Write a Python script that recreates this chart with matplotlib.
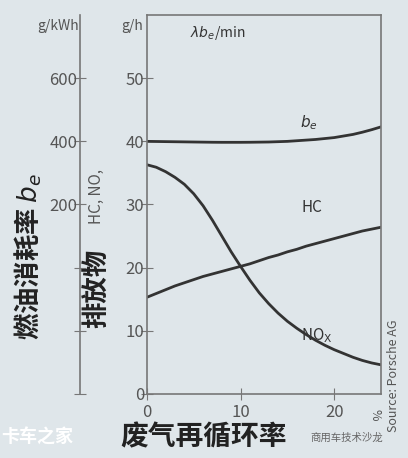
import matplotlib
matplotlib.use("Agg")
import matplotlib.pyplot as plt

plt.rcParams['font.family'] = ['Noto Sans CJK SC', 'DejaVu Sans']

egr = [0, 1, 2, 3, 4, 5, 6, 7, 8, 9, 10, 11, 12, 13, 14, 15, 16, 17, 18, 19, 20, 21, 22, 23, 24, 25]
be = [40.0, 39.98, 39.96, 39.94, 39.92, 39.9, 39.88, 39.86, 39.85, 39.85, 39.85, 39.86, 39.88, 39.9, 39.95,
      40.0, 40.1, 40.2, 40.3, 40.45, 40.6, 40.85, 41.1, 41.45, 41.85, 42.3]
hc = [15.3, 15.9, 16.5, 17.1, 17.6, 18.1, 18.6, 19.0, 19.4, 19.8, 20.2, 20.6, 21.1, 21.6, 22.0,
      22.5, 22.9, 23.4, 23.8, 24.2, 24.6, 25.0, 25.4, 25.8, 26.1, 26.4]
nox = [36.3, 35.9, 35.2, 34.3, 33.2, 31.7, 29.8, 27.5, 25.0, 22.5, 20.2, 18.0, 16.0, 14.3, 12.8,
       11.5, 10.4, 9.4, 8.5, 7.7, 7.0, 6.4, 5.8, 5.3, 4.9, 4.6]
x_ticks = [0, 10, 20]
y_ticks = [0, 10, 20, 30, 40, 50]
be_tick_labels = ['', '', '', '200', '400', '600']

bg = '#dfe6ea'
ink = '#333333'
tick_c = '#555555'

fig = plt.figure(figsize=(4.08, 4.58), dpi=100, facecolor=bg)
ax = fig.add_axes([0.36, 0.14, 0.574, 0.827], facecolor=bg)
ax.set_xlim(0, 25)
ax.set_ylim(0, 60)
for s in ax.spines.values():
    s.set_color('#777777'); s.set_linewidth(1.2)
ax.plot(egr, be, color=ink, lw=2)
ax.plot(egr, hc, color=ink, lw=2)
ax.plot(egr, nox, color=ink, lw=2)
ax.set_xticks(x_ticks)
ax.set_yticks(y_ticks)
ax.tick_params(direction='inout', length=8, color='#777777', labelcolor=tick_c, labelsize=12)
ax.tick_params(axis='y', pad=-2)
ax.text(-0.4, 58.2, 'g/h', ha='right', va='center', fontsize=10, color=tick_c, clip_on=False)
ax.text(4.6, 56.5, r'$\lambda b_e$/min', fontsize=10, color=ink)
ax.text(16.3, 42.3, r'$b_e$', fontsize=11, color=ink)
ax.text(16.5, 28.8, 'HC', fontsize=11, color=ink)
ax.text(16.5, 8.5, r'NO$_\mathrm{X}$', fontsize=11, color=ink)
ax.text(24.3, -3.3, '%', fontsize=9, color=tick_c, rotation=-90, ha='center', va='center')

ax2 = fig.add_axes([0.36, 0.14, 0.574, 0.827], facecolor='none')
ax2.set_ylim(0, 60)
ax2.set_xticks([])
for k in ['top', 'right', 'bottom']:
    ax2.spines[k].set_visible(False)
ax2.spines['left'].set_position(('outward', 48))
ax2.spines['left'].set_color('#777777'); ax2.spines['left'].set_linewidth(1.2)
ax2.set_yticks(y_ticks)
ax2.set_yticklabels(be_tick_labels)
ax2.tick_params(axis='y', direction='inout', length=8, color='#777777', labelcolor=tick_c, labelsize=12, pad=-2)
ax2.text(-0.29, 0.97, 'g/kWh', transform=ax2.transAxes, ha='right', va='center', fontsize=10, color=tick_c)

fig.text(0.07, 0.44, r'燃油消耗率 $b_e$', rotation=90, ha='center', va='center', fontsize=19, fontweight='bold', color='#222222')
fig.text(0.237, 0.37, '排放物', rotation=90, ha='center', va='center', fontsize=19, fontweight='bold', color='#222222')
fig.text(0.237, 0.57, 'HC, NO,', rotation=90, ha='center', va='center', fontsize=11, color=tick_c)
fig.text(0.5, 0.045, '废气再循环率', ha='center', va='center', fontsize=20, fontweight='bold', color='#222222')
fig.text(0.09, 0.045, '卡车之家', ha='center', va='center', fontsize=13, fontweight='bold', color='white')
fig.text(0.85, 0.045, '商用车技术沙龙', ha='center', va='center', fontsize=7.5, color='#666666')
fig.text(0.965, 0.18, 'Source: Porsche AG', rotation=90, ha='center', va='center', fontsize=9, color=tick_c)

fig.savefig('out.png', dpi=100, facecolor=bg)
